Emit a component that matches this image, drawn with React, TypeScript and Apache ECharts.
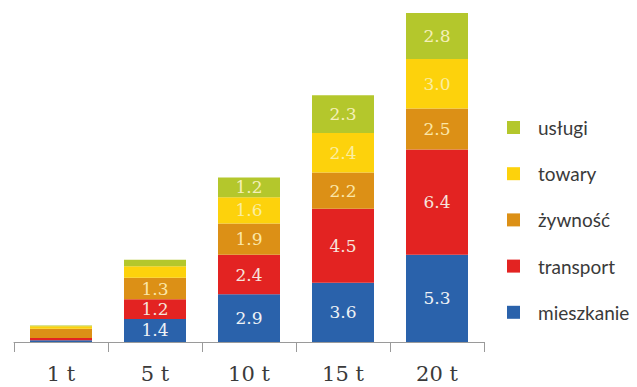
import React, { useEffect, useRef } from "react";
import * as echarts from "echarts";

const categories = ["1 t", "5 t", "10 t", "15 t", "20 t"];
const mieszkanie = [0.1, 1.4, 2.9, 3.6, 5.3];
const transport = [0.15, 1.2, 2.4, 4.5, 6.4];
const zywnosc = [0.55, 1.3, 1.9, 2.2, 2.5];
const towary = [0.15, 0.7, 1.6, 2.4, 3.0];
const uslugi = [0.05, 0.4, 1.2, 2.3, 2.8];

const seriesDefs = [
  { name: "mieszkanie", data: mieszkanie, color: "#2a62ab", labelColor: "#eef2f6" },
  { name: "transport", data: transport, color: "#e32322", labelColor: "#f6e4dc" },
  { name: "żywność", data: zywnosc, color: "#dc9016", labelColor: "#fbe7a8" },
  { name: "towary", data: towary, color: "#fdd20c", labelColor: "#fbeea0" },
  { name: "usługi", data: uslugi, color: "#b4c72c", labelColor: "#f5f0b8" },
];

const legendOrder = ["usługi", "towary", "żywność", "transport", "mieszkanie"];

export default function App() {
  const ref = useRef<HTMLDivElement>(null);

  useEffect(() => {
    if (!ref.current) return;
    const chart = echarts.init(ref.current, undefined, { renderer: "svg" });
    chart.setOption({
      animation: false,
      backgroundColor: "#ffffff",
      grid: { left: 14, right: 153, top: 13, bottom: 45 },
      legend: {
        orient: "vertical",
        left: 507,
        top: 118,
        padding: 0,
        data: legendOrder,
        icon: "rect",
        itemWidth: 13,
        itemHeight: 13,
        itemGap: 27.2,
        textStyle: {
          fontFamily: "Lato",
          fontSize: 19,
          lineHeight: 14,
          color: "#3a3a3a",
          padding: [0, 0, 0, 13],
        },
      },
      xAxis: {
        type: "category",
        data: categories,
        axisLine: { lineStyle: { color: "#9a9a9a", width: 1 } },
        axisTick: { show: true, length: 10, lineStyle: { color: "#9a9a9a" } },
        axisLabel: {
          margin: 21,
          fontFamily: "DejaVu Serif",
          fontSize: 21,
          color: "#3a3a3a",
        },
      },
      yAxis: {
        type: "value",
        min: 0,
        max: 20,
        show: false,
        splitLine: { show: false },
      },
      series: seriesDefs.map((s) => ({
        name: s.name,
        type: "bar",
        stack: "total",
        barWidth: 62,
        data: s.data,
        itemStyle: { color: s.color },
        label: {
          show: true,
          position: "inside",
          fontFamily: "DejaVu Serif",
          fontSize: 17,
          color: s.labelColor,
          formatter: (p: any) => (p.value >= 1 ? Number(p.value).toFixed(1) : ""),
        },
      })),
    });
    return () => chart.dispose();
  }, []);

  return (
    <div
      ref={ref}
      style={{ position: "absolute", left: 0, top: 0, width: 637, height: 387 }}
    />
  );
}
